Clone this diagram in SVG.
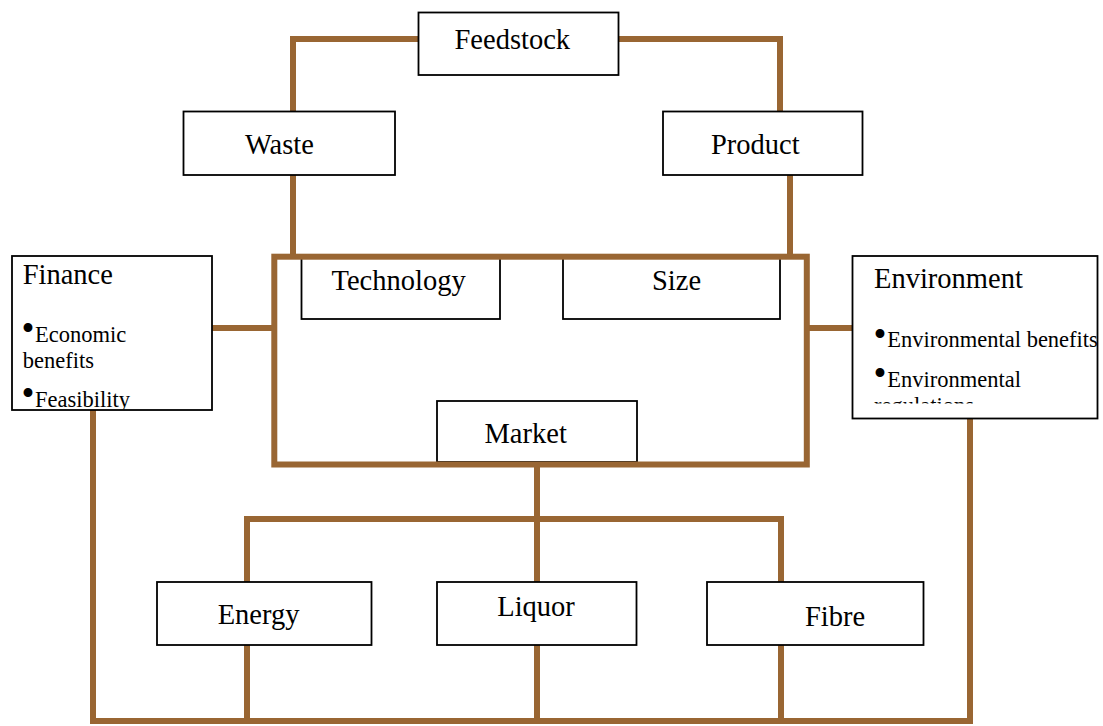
<svg xmlns="http://www.w3.org/2000/svg" width="1103" height="726" viewBox="0 0 1103 726">
  <style>
    .link { fill: none; stroke: #996633; stroke-width: 6; stroke-linejoin: miter; stroke-linecap: butt; }
    .box { fill: #ffffff; stroke: #000000; stroke-width: 1.8; }
    .label { font-family: "Liberation Serif", "Times New Roman", serif; font-size: 28.5px; fill: #000000; }
    .item { font-family: "Liberation Serif", "Times New Roman", serif; font-size: 22.5px; fill: #000000; }
    .dot { font-family: "Liberation Serif", "Times New Roman", serif; font-size: 37px; fill: #000000; }
  </style>
  <defs>
    <clipPath id="finance-clip"><rect x="12" y="256" width="200" height="153.5"/></clipPath>
    <clipPath id="environment-clip"><rect x="852" y="256" width="246" height="147.5"/></clipPath>
  </defs>
  <rect x="0" y="0" width="1103" height="726" fill="#ffffff"/>

  <!-- brown connectors -->
  <g id="connectors">
    <path class="link" d="M418 39 H293 V111"/>
    <path class="link" d="M618 39 H780 V111"/>
    <path class="link" d="M293 175 V256"/>
    <path class="link" d="M790 175 V256"/>
    <path class="link" d="M212 328 H274"/>
    <path class="link" d="M807 328 H852"/>
    <path class="link" d="M537 464 V582"/>
    <path class="link" d="M247 582 V519 H781 V582"/>
    <path class="link" d="M93 410 V721 H970 V418"/>
    <path class="link" d="M247 645 V721"/>
    <path class="link" d="M537 645 V721"/>
    <path class="link" d="M781 645 V721"/>
  </g>

  <g id="feedstock">
    <rect class="box" x="418.5" y="12.5" width="200" height="62.5"/>
    <text class="label" x="454.5" y="48.5">Feedstock</text>
  </g>
  <g id="waste">
    <rect class="box" x="183.5" y="111.5" width="211.5" height="63.5"/>
    <text class="label" x="245" y="153.5">Waste</text>
  </g>
  <g id="product">
    <rect class="box" x="663" y="111.5" width="199.5" height="63.5"/>
    <text class="label" x="711" y="153.5">Product</text>
  </g>

  <g id="technology">
    <rect class="box" x="301.5" y="257" width="198.5" height="62"/>
    <text class="label" x="331.5" y="290">Technology</text>
  </g>
  <g id="size">
    <rect class="box" x="563" y="257" width="217" height="62"/>
    <text class="label" x="652" y="289.5">Size</text>
  </g>
  <g id="market">
    <rect class="box" x="437" y="401" width="200" height="61"/>
    <text class="label" x="484.5" y="442.5">Market</text>
  </g>

  <!-- frame holding technology, size and market -->
  <g id="core">
    <rect class="link" x="274.3" y="256.7" width="532.5" height="207.8"/>
  </g>

  <g id="finance">
    <rect class="box" x="12" y="256" width="200" height="154"/>
    <g clip-path="url(#finance-clip)">
      <text class="label" x="22.7" y="284.3">Finance</text>
      <text class="dot" x="21.5" y="341">•</text>
      <text class="item" x="35" y="341.7">Economic</text>
      <text class="item" x="22.7" y="367.7">benefits</text>
      <text class="dot" x="21.5" y="406">•</text>
      <text class="item" x="35" y="406.7">Feasibility</text>
    </g>
  </g>

  <g id="environment">
    <rect class="box" x="852.5" y="256" width="245" height="162.5"/>
    <g clip-path="url(#environment-clip)">
      <text class="label" x="874" y="288.3">Environment</text>
      <text class="dot" x="873.5" y="346.6">•</text>
      <text class="item" x="887.3" y="347.3">Environmental benefits</text>
      <text class="dot" x="873.5" y="386">•</text>
      <text class="item" x="887.3" y="386.7">Environmental</text>
      <text class="item" x="874" y="412.7">regulations</text>
    </g>
  </g>

  <g id="energy">
    <rect class="box" x="157" y="582" width="214.5" height="63"/>
    <text class="label" x="217.7" y="624">Energy</text>
  </g>
  <g id="liquor">
    <rect class="box" x="437" y="582" width="199.5" height="63"/>
    <text class="label" x="497.3" y="616">Liquor</text>
  </g>
  <g id="fibre">
    <rect class="box" x="707" y="582" width="216.5" height="63"/>
    <text class="label" x="805" y="626">Fibre</text>
  </g>
</svg>
